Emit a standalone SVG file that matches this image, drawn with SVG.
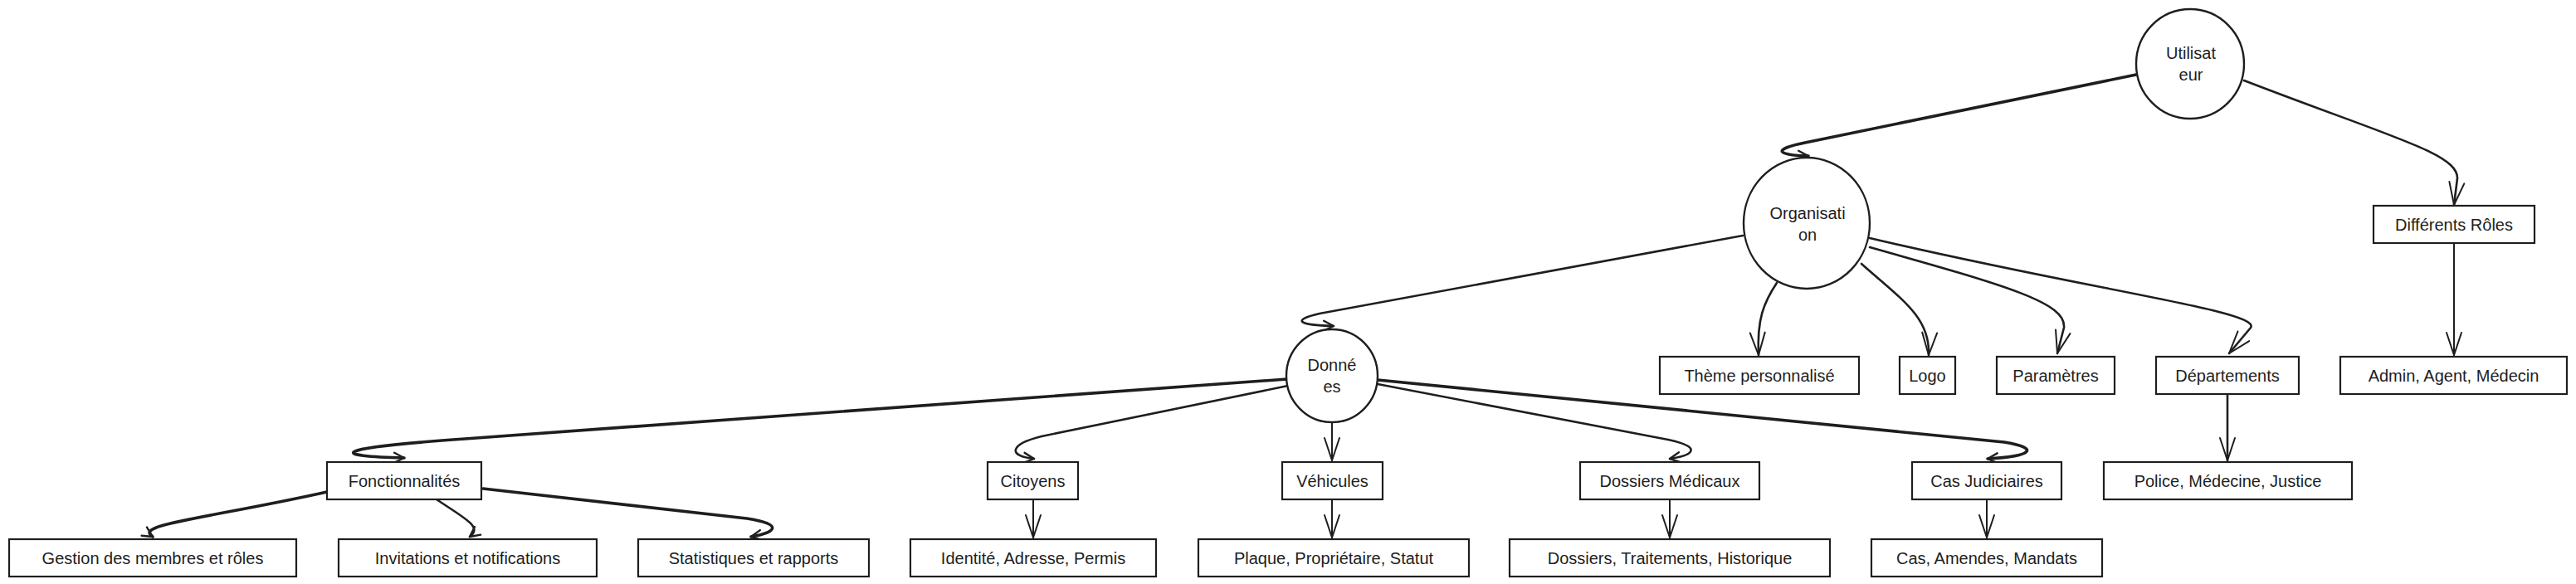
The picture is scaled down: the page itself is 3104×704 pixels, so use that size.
<svg xmlns="http://www.w3.org/2000/svg" width="3104" height="704" viewBox="0 0 3104 704">
<defs>
<style>
.box{fill:#ffffff;stroke:#1e1e1e;stroke-width:2.2}
.ell{fill:#ffffff;stroke:#1e1e1e;stroke-width:2.4}
.t{font-family:"Liberation Sans",Arial,sans-serif;font-size:20px;fill:#1e1e1e;text-anchor:middle;dominant-baseline:central}
.c{fill:none;stroke:#1e1e1e;stroke-width:2.6;stroke-linecap:round;stroke-linejoin:round}
.thick{stroke-width:3.6}
.thin{stroke-width:2}
.a{marker-end:url(#ah)}
.h{marker-end:url(#hk)}
</style>
<marker id="ah" markerUnits="userSpaceOnUse" markerWidth="40" markerHeight="30" refX="0" refY="0" viewBox="-30 -15 40 30" orient="auto" overflow="visible">
<path d="M -27 -9 L 0 0 L -27 9" fill="none" stroke="#1e1e1e" stroke-width="2" stroke-linecap="round" stroke-linejoin="round"/>
</marker>
<marker id="hk" markerUnits="userSpaceOnUse" markerWidth="30" markerHeight="20" refX="0" refY="0" viewBox="-20 -10 30 20" orient="auto" overflow="visible">
<path d="M -12 -6 L 0 0 L -12 6" fill="none" stroke="#1e1e1e" stroke-width="2.4" stroke-linecap="round" stroke-linejoin="round"/>
</marker>
</defs>
<rect width="3104" height="704" fill="#ffffff"/>

<g id="connectors">
<path class="c thick h" d="M 2574 90 L 2175 172 C 2135 180, 2140 187, 2179 188"/>
<path class="c a" d="M 2704 97 C 2880 165, 2962 185, 2961 215 L 2957 247"/>
<path class="c a" d="M 2141 341 C 2125 365, 2117 385, 2119 428"/>
<path class="c a" d="M 2243 318 C 2290 360, 2326 382, 2324 428"/>
<path class="c a" d="M 2253 298 C 2420 345, 2490 365, 2487 395 L 2479 426"/>
<path class="c a" d="M 2253 287 C 2520 350, 2725 375, 2712 395 L 2686 426"/>
<path class="c h" d="M 2100 284 L 1590 378 C 1555 386, 1565 392, 1607 393"/>
<path class="c thin a" d="M 2957 293 L 2957 428"/>
<path class="c a" d="M 2684 475 L 2684 555"/>
<path class="c thick h" d="M 1551 457 L 560 529 C 390 541, 400 550, 487 552"/>
<path class="c h" d="M 1552 465 L 1255 526 C 1215 536, 1215 550, 1246 553"/>
<path class="c thin a" d="M 1605 508 L 1605 555"/>
<path class="c h" d="M 1660 463 L 2010 530 C 2048 538, 2045 548, 2012 553"/>
<path class="c thick h" d="M 1660 458 L 2415 533 C 2458 540, 2450 550, 2395 553"/>
<path class="c thick h" d="M 394 593 C 250 625, 160 632, 184 647"/>
<path class="c h" d="M 526 602 C 560 625, 582 635, 566 647"/>
<path class="c thick h" d="M 582 589 L 900 625 C 945 632, 935 642, 905 647"/>
<path class="c thin a" d="M 1245 602 L 1245 648"/>
<path class="c thin a" d="M 1605 602 L 1605 648"/>
<path class="c thin a" d="M 2012 602 L 2012 648"/>
<path class="c thin a" d="M 2394 602 L 2394 648"/>
</g>

<g id="utilisateur"><ellipse class="ell" cx="2639" cy="77" rx="65" ry="66"/><text class="t" x="2640" y="64">Utilisat</text><text class="t" x="2640" y="90">eur</text></g>
<g id="organisation"><ellipse class="ell" cx="2177" cy="269" rx="76" ry="79"/><text class="t" x="2178" y="257">Organisati</text><text class="t" x="2178" y="283">on</text></g>
<g id="donnees"><ellipse class="ell" cx="1605" cy="453" rx="55" ry="56"/><text class="t" x="1605" y="440">Donné</text><text class="t" x="1605" y="466">es</text></g>

<g id="roles"><rect class="box" x="2860" y="248" width="194" height="45"/><text class="t" x="2957" y="270.5">Différents Rôles</text></g>
<g id="theme"><rect class="box" x="2000" y="430" width="240" height="45"/><text class="t" x="2120" y="452.5">Thème personnalisé</text></g>
<g id="logo"><rect class="box" x="2289" y="430" width="67" height="45"/><text class="t" x="2322.5" y="452.5">Logo</text></g>
<g id="parametres"><rect class="box" x="2406" y="430" width="142" height="45"/><text class="t" x="2477" y="452.5">Paramètres</text></g>
<g id="departements"><rect class="box" x="2598" y="430" width="172" height="45"/><text class="t" x="2684" y="452.5">Départements</text></g>
<g id="admin"><rect class="box" x="2820" y="430" width="273" height="45"/><text class="t" x="2956.5" y="452.5">Admin, Agent, Médecin</text></g>

<g id="fonctionnalites"><rect class="box" x="394" y="557" width="186" height="45"/><text class="t" x="487" y="579.5">Fonctionnalités</text></g>
<g id="citoyens"><rect class="box" x="1190" y="557" width="109" height="45"/><text class="t" x="1244.5" y="579.5">Citoyens</text></g>
<g id="vehicules"><rect class="box" x="1545" y="557" width="121" height="45"/><text class="t" x="1605.5" y="579.5">Véhicules</text></g>
<g id="dossiers-medicaux"><rect class="box" x="1904" y="557" width="216" height="45"/><text class="t" x="2012" y="579.5">Dossiers Médicaux</text></g>
<g id="cas-judiciaires"><rect class="box" x="2304" y="557" width="180" height="45"/><text class="t" x="2394" y="579.5">Cas Judiciaires</text></g>
<g id="police"><rect class="box" x="2535" y="557" width="299" height="45"/><text class="t" x="2684.5" y="579.5">Police, Médecine, Justice</text></g>

<g id="gestion"><rect class="box" x="11" y="650" width="346" height="45"/><text class="t" x="184" y="672.5">Gestion des membres et rôles</text></g>
<g id="invitations"><rect class="box" x="408" y="650" width="311" height="45"/><text class="t" x="563.5" y="672.5">Invitations et notifications</text></g>
<g id="statistiques"><rect class="box" x="769" y="650" width="278" height="45"/><text class="t" x="908" y="672.5">Statistiques et rapports</text></g>
<g id="identite"><rect class="box" x="1097" y="650" width="296" height="45"/><text class="t" x="1245" y="672.5">Identité, Adresse, Permis</text></g>
<g id="plaque"><rect class="box" x="1444" y="650" width="326" height="45"/><text class="t" x="1607" y="672.5">Plaque, Propriétaire, Statut</text></g>
<g id="dossiers"><rect class="box" x="1819" y="650" width="386" height="45"/><text class="t" x="2012" y="672.5">Dossiers, Traitements, Historique</text></g>
<g id="cas"><rect class="box" x="2255" y="650" width="278" height="45"/><text class="t" x="2394" y="672.5">Cas, Amendes, Mandats</text></g>
</svg>
